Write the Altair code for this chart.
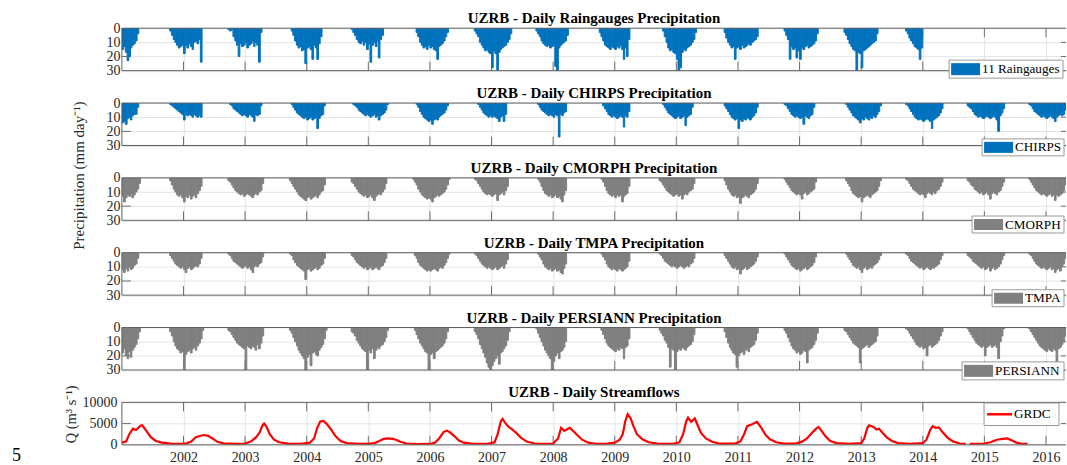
import altair as alt
import pandas as pd
from datetime import date

# ---------------------------------------------------------------- style
SERIF = "Liberation Serif"
BLUE = "#0072BD"
GREY = "#808080"
RED = "#FF0000"
FRAME = "#5f5f5f"
TICK = "#6e6e6e"
GRID = "#e4e4e4"
TEXT = "#262626"

W = 945      # plot width (px)
H = 42.5     # plot height of every panel (px)
GAP = 31.9   # vertical gap between panels (px)

# ---------------------------------------------------------------- axes
X_DOMAIN = [2001.0, 2016.325]
YEAR_TICKS = list(range(2002, 2017))
P_TICKS = [0, 10, 20, 30]
P_INNER_TICKS = [10, 20]
Q_TICKS = [0, 5000, 10000]
Q_INNER_TICKS = [5000]

# ---------------------------------------------------------------- data
# Rainy seasons start on 21 Sep of the listed year and run to 30 Apr of the next.
# Each season holds 22 dekadal depths (mm/day): Sep-3, Oct-1..3, Nov, Dec, Jan, Feb, Mar, Apr.
SEASONS = list(range(2000, 2016))
DEKAD_MONTH = [9, 10, 10, 10, 11, 11, 11, 12, 12, 12, 1, 1, 1, 2, 2, 2, 3, 3, 3, 4, 4, 4]
DEKAD_DAY = [21, 1, 11, 21, 1, 11, 21, 1, 11, 21, 1, 11, 21, 1, 11, 21, 1, 11, 21, 1, 11, 21]
N = None

RAINGAUGES = [
    [N] * 10 + [15, 13, 17, 23, 20, 14, 12, 11, 9, 4, 0, 0],
    [0, 0, 2, 5, 8, 10, 12, 14, 13, 12, 18, 12, 14, 11, 13, 15, 10, 9, 11, 8, 24, 0],
    [1, 2, 1, 6, 9, 12, 20, 11, 13, 12, 10, 14, 12, 11, 9, 13, 10, 12, 24, 3, 0, 0],
    [0, 2, 5, 9, 12, 14, 13, 16, 15, 25, 14, 13, 15, 22, 12, 14, 22, 11, 6, 0, 0, 0],
    [1, 3, 5, 8, 10, 11, 9, 12, 10, 15, 11, 24, 12, 10, 13, 9, 21, 8, 5, 0, 0, 0],
    [0, 0, 3, 6, 10, 12, 14, 13, 15, 12, 14, 13, 15, 16, 22, 13, 12, 11, 9, 6, 3, 0],
    [2, 4, 6, 10, 12, 14, 16, 15, 17, 18, 28, 16, 18, 30, 17, 15, 14, 13, 12, 10, 8, 4],
    [2, 4, 6, 9, 11, 12, 13, 12, 14, 13, 12, 27, 30, 14, 12, 11, 10, 9, 5, 0, 0, 0],
    [0, 3, 6, 9, 12, 13, 14, 15, 13, 14, 15, 13, 14, 12, 15, 22, 14, 20, 8, 0, 0, 0],
    [0, 0, 2, 6, 10, 14, 16, 15, 17, 18, 22, 30, 28, 17, 15, 16, 14, 13, 12, 10, 8, 3],
    [0, 0, 3, 7, 10, 12, 14, 13, 22, 14, 13, 15, 12, 14, 13, 12, 11, 12, 10, 9, 8, 6],
    [0, 2, 5, 8, 22, 13, 15, 14, 21, 16, 22, 14, 15, 13, 12, 14, 13, 12, 11, 9, 4, 0],
    [3, 5, 8, 11, 13, 15, 16, 30, 17, 18, 28, 16, 15, 14, 13, 12, 11, 10, 9, 4, 0, 0],
    [2, 4, 7, 9, 11, 13, 14, 15, 22, 14] + [N] * 12,
    None,
    None,
]

CHIRPS = [
    [N] * 10 + [14, 13, 15, 11, 10, 12, 9, 8, 8, 3, 0, 0],
    [0, 0, 1, 2, 3, 4, 5, 6, 7, 8, 12, 8, 9, 8, 9, 10, 8, 9, 10, 9, 10, 0],
    [0, 1, 2, 4, 5, 6, 7, 8, 9, 8, 9, 10, 8, 9, 10, 13, 8, 9, 8, 2, 0, 0],
    [0, 1, 3, 5, 7, 8, 9, 10, 11, 10, 12, 11, 10, 12, 11, 10, 18, 11, 9, 8, 2, 0],
    [0, 1, 2, 3, 5, 6, 7, 8, 9, 8, 9, 10, 9, 8, 10, 9, 12, 9, 8, 7, 5, 1],
    [0, 0, 1, 3, 6, 8, 10, 11, 12, 13, 12, 15, 12, 11, 12, 10, 9, 8, 7, 5, 2, 0],
    [0, 0, 1, 3, 5, 7, 8, 9, 10, 9, 10, 9, 10, 11, 13, 10, 9, 13, 8, 0, 0, 0],
    [0, 1, 3, 5, 6, 7, 8, 9, 8, 9, 10, 8, 9, 24, 8, 9, 7, 6, 0, 0, 0, 0],
    [0, 0, 0, 2, 4, 6, 8, 9, 10, 9, 10, 11, 10, 9, 10, 17, 9, 10, 6, 0, 0, 0],
    [0, 0, 1, 3, 5, 7, 8, 9, 10, 11, 10, 9, 11, 10, 9, 16, 10, 9, 8, 3, 0, 0],
    [0, 0, 2, 4, 6, 8, 10, 11, 12, 11, 18, 12, 13, 11, 12, 10, 11, 12, 10, 9, 7, 3],
    [0, 1, 2, 4, 6, 8, 9, 10, 9, 10, 11, 10, 15, 9, 10, 11, 9, 8, 3, 0, 0, 0],
    [0, 1, 3, 5, 7, 9, 10, 11, 12, 14, 11, 12, 10, 11, 12, 10, 11, 9, 10, 8, 6, 2],
    [1, 2, 4, 6, 8, 10, 11, 12, 11, 12, 13, 12, 11, 12, 13, 18, 12, 11, 10, 9, 7, 4],
    [2, 3, 4, 6, 8, 9, 10, 9, 10, 11, 10, 9, 10, 11, 10, 9, 10, 12, 20, 9, 7, 4],
    [1, 2, 4, 6, 7, 8, 9, 10, 9, 10, 11, 10, 9, 10, 11, 13, 10, 9, 8, 9, 8, 5],
]

CMORPH = [
    [N] * 10 + [13, 17, 14, 12, 13, 11, 14, 12, 10, 8, 4, 0],
    [0, 0, 2, 5, 8, 10, 12, 13, 12, 14, 17, 13, 14, 12, 15, 13, 12, 14, 11, 9, 6, 0],
    [2, 3, 5, 7, 9, 10, 11, 12, 11, 13, 12, 11, 12, 13, 14, 12, 11, 12, 10, 9, 4, 0],
    [2, 4, 6, 8, 10, 12, 13, 14, 15, 16, 14, 13, 15, 14, 13, 12, 14, 12, 10, 9, 5, 0],
    [3, 4, 6, 8, 10, 11, 12, 13, 12, 14, 13, 12, 14, 16, 13, 12, 11, 12, 10, 8, 4, 0],
    [1, 3, 5, 8, 10, 12, 13, 14, 15, 14, 15, 17, 14, 13, 12, 13, 12, 11, 10, 8, 5, 1],
    [1, 2, 4, 6, 8, 10, 11, 12, 11, 12, 13, 12, 11, 16, 12, 11, 10, 12, 9, 6, 0, 0],
    [0, 1, 3, 6, 9, 11, 12, 13, 12, 14, 13, 12, 14, 13, 15, 17, 12, 9, 0, 0, 0, 0],
    [0, 0, 1, 3, 6, 9, 11, 12, 13, 12, 14, 12, 13, 12, 17, 13, 12, 11, 6, 0, 0, 0],
    [2, 3, 5, 7, 9, 10, 11, 12, 13, 12, 11, 13, 12, 15, 12, 11, 12, 10, 9, 8, 4, 0],
    [0, 0, 2, 5, 8, 10, 12, 13, 12, 14, 13, 18, 14, 13, 12, 13, 14, 12, 11, 10, 8, 4],
    [0, 1, 3, 5, 7, 9, 10, 11, 12, 11, 12, 15, 11, 10, 12, 11, 10, 9, 8, 3, 0, 0],
    [0, 2, 4, 6, 9, 11, 12, 13, 14, 13, 17, 14, 13, 12, 13, 14, 12, 11, 10, 9, 6, 2],
    [1, 2, 4, 6, 8, 9, 10, 11, 12, 11, 12, 14, 11, 10, 11, 12, 10, 11, 9, 8, 6, 3],
    [2, 3, 5, 6, 8, 9, 10, 11, 10, 12, 11, 10, 12, 15, 11, 10, 11, 12, 10, 9, 6, 3],
    [1, 3, 5, 7, 9, 10, 11, 12, 11, 12, 13, 12, 11, 13, 12, 16, 12, 13, 12, 11, 9, 5],
]

TMPA = [
    [N] * 10 + [12, 14, 11, 13, 10, 12, 11, 9, 8, 4, 0, 0],
    [0, 0, 2, 4, 6, 8, 9, 10, 11, 10, 12, 14, 11, 10, 12, 11, 10, 9, 10, 8, 4, 0],
    [1, 2, 4, 6, 7, 8, 9, 10, 11, 10, 9, 11, 10, 12, 14, 10, 9, 10, 8, 7, 3, 0],
    [1, 2, 5, 7, 9, 10, 11, 12, 13, 19, 12, 11, 13, 12, 11, 10, 12, 11, 9, 8, 4, 0],
    [2, 3, 5, 7, 8, 9, 10, 11, 10, 12, 11, 10, 12, 11, 10, 11, 12, 10, 9, 7, 4, 0],
    [0, 2, 4, 7, 9, 10, 11, 12, 13, 12, 13, 12, 11, 12, 13, 11, 10, 11, 9, 7, 4, 1],
    [1, 2, 4, 6, 8, 9, 10, 11, 10, 11, 12, 11, 10, 12, 11, 10, 9, 11, 8, 5, 0, 0],
    [0, 1, 3, 5, 8, 10, 11, 12, 11, 13, 12, 11, 13, 12, 14, 15, 11, 8, 0, 0, 0, 0],
    [0, 0, 1, 3, 5, 8, 10, 11, 12, 11, 12, 13, 11, 12, 13, 12, 11, 10, 6, 0, 0, 0],
    [1, 2, 4, 6, 7, 8, 9, 10, 9, 10, 11, 10, 9, 10, 11, 10, 9, 10, 8, 7, 4, 0],
    [0, 0, 2, 4, 6, 8, 10, 11, 10, 12, 11, 15, 12, 11, 10, 12, 11, 10, 9, 8, 6, 3],
    [0, 1, 3, 5, 7, 9, 10, 11, 12, 11, 13, 12, 11, 10, 12, 11, 10, 9, 7, 3, 0, 0],
    [0, 1, 3, 5, 7, 9, 10, 11, 10, 12, 14, 11, 10, 12, 11, 10, 11, 9, 8, 7, 5, 2],
    [1, 2, 4, 6, 7, 8, 9, 10, 11, 10, 12, 11, 10, 11, 12, 10, 11, 10, 9, 8, 5, 2],
    [2, 3, 4, 6, 7, 8, 9, 10, 11, 10, 12, 11, 10, 13, 11, 10, 12, 11, 10, 8, 5, 2],
    [1, 2, 4, 6, 8, 9, 10, 11, 10, 11, 12, 11, 10, 12, 11, 14, 12, 11, 13, 10, 8, 4],
]

PERSIANN = [
    [N] * 10 + [18, 15, 20, 22, 17, 21, 16, 14, 12, 8, 3, 0],
    [0, 0, 3, 6, 10, 13, 15, 16, 18, 17, 30, 19, 17, 16, 18, 15, 14, 16, 13, 11, 8, 2],
    [2, 3, 5, 7, 9, 11, 12, 13, 14, 15, 30, 13, 14, 15, 13, 14, 16, 12, 15, 11, 6, 0],
    [2, 4, 7, 10, 13, 16, 18, 20, 22, 30, 21, 19, 27, 18, 17, 19, 20, 16, 14, 12, 8, 2],
    [3, 4, 6, 9, 11, 13, 15, 16, 17, 30, 16, 18, 15, 22, 16, 14, 15, 13, 12, 10, 7, 2],
    [0, 2, 5, 8, 11, 13, 15, 17, 18, 30, 19, 18, 22, 17, 16, 15, 14, 13, 11, 8, 3, 0],
    [3, 5, 8, 12, 15, 18, 21, 25, 28, 30, 27, 24, 22, 20, 26, 18, 17, 15, 13, 9, 3, 0],
    [1, 4, 7, 10, 13, 16, 18, 20, 22, 30, 24, 20, 18, 22, 17, 16, 14, 10, 0, 0, 0, 0],
    [0, 0, 2, 5, 8, 11, 13, 14, 15, 16, 17, 15, 16, 14, 15, 22, 14, 13, 8, 0, 0, 0],
    [2, 4, 6, 9, 11, 14, 28, 15, 16, 30, 17, 15, 16, 14, 15, 16, 14, 13, 12, 10, 5, 0],
    [0, 0, 3, 7, 11, 14, 16, 18, 19, 28, 20, 18, 17, 19, 16, 15, 17, 14, 13, 12, 9, 4],
    [0, 2, 4, 7, 10, 13, 15, 16, 18, 17, 19, 18, 16, 17, 25, 16, 15, 14, 12, 9, 4, 0],
    [2, 3, 5, 7, 9, 11, 12, 13, 14, 25, 15, 14, 13, 12, 14, 13, 12, 11, 10, 6, 0, 0],
    [1, 2, 4, 6, 8, 10, 12, 13, 14, 13, 15, 14, 20, 13, 12, 14, 13, 12, 11, 9, 6, 3],
    [1, 3, 5, 7, 9, 11, 12, 13, 14, 13, 20, 14, 13, 12, 14, 13, 12, 14, 22, 10, 6, 1],
    [1, 3, 5, 7, 9, 11, 13, 14, 15, 16, 17, 15, 16, 17, 15, 16, 28, 15, 14, 12, 10, 6],
]

# Streamflow at the outlet (decimal year, m3/s); None marks the gap in the record.
GRDC_T = [
    2001.00, 2001.07, 2001.12, 2001.18, 2001.23, 2001.30, 2001.33, 2001.40, 2001.47, 2001.55, 2001.65, 2001.80, 2001.95,
    2002.05, 2002.12, 2002.20, 2002.25, 2002.33, 2002.40, 2002.47, 2002.55, 2002.65, 2002.85,
    2003.00, 2003.10, 2003.18, 2003.24, 2003.28, 2003.31, 2003.35, 2003.40, 2003.47, 2003.55, 2003.70, 2003.90,
    2004.05, 2004.12, 2004.17, 2004.22, 2004.27, 2004.32, 2004.40, 2004.47, 2004.55, 2004.65, 2004.85,
    2005.00, 2005.10, 2005.18, 2005.25, 2005.32, 2005.40, 2005.45, 2005.52, 2005.62, 2005.80,
    2006.00, 2006.08, 2006.15, 2006.22, 2006.27, 2006.32, 2006.40, 2006.47, 2006.55, 2006.70, 2006.95,
    2007.05, 2007.10, 2007.15, 2007.18, 2007.22, 2007.27, 2007.33, 2007.40, 2007.48, 2007.58, 2007.70, 2007.90,
    2008.00, 2008.08, 2008.13, 2008.18, 2008.22, 2008.27, 2008.33, 2008.40, 2008.47, 2008.57, 2008.70, 2008.88,
    2009.00, 2009.08, 2009.13, 2009.17, 2009.21, 2009.26, 2009.30, 2009.36, 2009.45, 2009.55, 2009.70, 2009.95,
    2010.05, 2010.11, 2010.16, 2010.19, 2010.24, 2010.30, 2010.35, 2010.40, 2010.48, 2010.58, 2010.70, 2010.95,
    2011.04, 2011.10, 2011.15, 2011.22, 2011.31, 2011.38, 2011.45, 2011.52, 2011.62, 2011.75, 2011.95,
    2012.05, 2012.12, 2012.20, 2012.27, 2012.31, 2012.36, 2012.42, 2012.50, 2012.60, 2012.80,
    2013.00, 2013.05, 2013.10, 2013.13, 2013.20, 2013.25, 2013.29, 2013.35, 2013.42, 2013.50, 2013.60, 2013.80,
    2014.00, 2014.06, 2014.12, 2014.16, 2014.21, 2014.26, 2014.32, 2014.40, 2014.49, 2014.60, 2014.70,
    2014.72,
    2014.76, 2014.90, 2015.00, 2015.10, 2015.20, 2015.30, 2015.37, 2015.45, 2015.52, 2015.60, 2015.70,
]
GRDC_Q = [
    500, 800, 2500, 3800, 3500, 4500, 4600, 3200, 1800, 900, 500, 300, 250,
    350, 700, 1800, 2000, 2300, 2100, 1500, 700, 350, 200,
    300, 800, 1800, 3000, 4500, 5000, 4200, 2500, 1200, 600, 300, 250,
    500, 1500, 4000, 5500, 5600, 5000, 3500, 2000, 900, 400, 250,
    200, 400, 900, 1400, 1500, 1400, 1200, 700, 300, 150,
    200, 500, 1500, 3000, 3300, 3000, 2000, 1000, 500, 250, 300,
    600, 2500, 5500, 6100, 5200, 4300, 3700, 2800, 1600, 700, 300, 200,
    300, 1500, 4000, 3300, 3600, 4000, 3200, 2200, 1200, 500, 250, 300,
    500, 1200, 2500, 5500, 7200, 6200, 4500, 2500, 1300, 600, 300, 250,
    600, 2500, 5500, 6400, 5400, 6200, 4500, 2800, 1500, 700, 300, 300,
    800, 2500, 4400, 4800, 5400, 4000, 2300, 1300, 600, 300, 350,
    800, 1500, 2800, 3800, 4200, 3200, 2000, 900, 400, 250,
    400, 1500, 4000, 4600, 4200, 3600, 3800, 2800, 1700, 900, 400, 250,
    400, 1200, 3500, 4400, 4000, 4100, 3000, 1700, 800, 300, 200,
    None,
    200, 250, 300, 600, 1200, 1400, 1500, 1000, 500, 250, 200,
]

PANELS = [
    # (series, legend name, colour, title, legend box: left, top, width, height)
    (RAINGAUGES, "11 Raingauges", BLUE, "UZRB - Daily Raingauges Precipitation", 828, 32.0, 114, 18),
    (CHIRPS, "CHIRPS", BLUE, "UZRB - Daily CHIRPS Precipitation", 861, 35.9, 82, 17),
    (CMORPH, "CMORPH", GREY, "UZRB - Daily CMORPH Precipitation", 851, 38.2, 92, 17),
    (TMPA, "TMPA", GREY, "UZRB - Daily TMPA Precipitation", 871, 37.1, 72, 17),
    (PERSIANN, "PERSIANN", GREY, "UZRB - Daily PERSIANN Precipitation", 841, 34.4, 102, 18),
]
FLOW_TITLE = "UZRB - Daily Streamflows"
FLOW_NAME = "GRDC"
FLOW_LEGEND = (863, 0.7, 75, 22.5)


# ---------------------------------------------------------------- helpers
def decimal_year(y, m, d):
    start = date(y, 1, 1)
    days = (date(y + 1, 1, 1) - start).days
    return y + (date(y, m, d) - start).days / days


def dekad_frame(seasons):
    rows = []
    for s, values in zip(SEASONS, seasons):
        if values is None:
            continue
        for i, v in enumerate(values):
            if v is None or v == 0:
                continue
            m, d = DEKAD_MONTH[i], DEKAD_DAY[i]
            x0 = decimal_year(s if m >= 9 else s + 1, m, d)
            if i + 1 < len(DEKAD_MONTH):
                m2, d2 = DEKAD_MONTH[i + 1], DEKAD_DAY[i + 1]
                x1 = decimal_year(s if m2 >= 9 else s + 1, m2, d2)
            else:
                x1 = decimal_year(s + 1, 5, 1)
            if x0 >= X_DOMAIN[1] or x1 <= X_DOMAIN[0]:
                continue
            rows.append({"x0": x0, "x1": x1, "v": v})
    return pd.DataFrame(rows)


x_scale = alt.Scale(domain=X_DOMAIN, nice=False, zero=False)
p_scale = alt.Scale(domain=[0, 30], reverse=True, nice=False, zero=False)
q_scale = alt.Scale(domain=[0, 10000], nice=False, zero=False)


def x_axis(labels):
    return alt.Axis(
        values=YEAR_TICKS, format="d", grid=True, gridColor=GRID, gridWidth=1,
        ticks=False, domain=False, labels=labels, labelFont=SERIF, labelFontSize=14,
        labelColor=TEXT, labelPadding=6, labelFlush=False, labelOverlap=False, title=None,
    )


def y_axis(values, pad, **title):
    kw = dict(
        values=values, format="d", grid=True, gridColor=GRID, gridWidth=1, ticks=False,
        domain=False, labelFont=SERIF, labelFontSize=14, labelColor=TEXT, labelPadding=pad,
        labelFlush=False, labelOverlap=False,
    )
    if title:
        kw.update(
            title=title["text"], titleFont=SERIF, titleFontSize=title["size"],
            titleFontWeight="normal", titleColor=TEXT, titleAngle=270,
            titleAlign="center", titleBaseline="middle",
            titleX=title["x"], titleY=title["y"],
        )
    else:
        kw.update(title=None)
    return alt.Axis(**kw)


def frame_layers(y_scale, xax, yax, inner):
    """Inner tick marks and the open box (top, bottom, left edges) of one panel."""
    one = pd.DataFrame({"k": [0]})
    years = pd.DataFrame({"x0": YEAR_TICKS})
    levels = pd.DataFrame({"v": inner})
    xs = alt.X("x0:Q", scale=x_scale, axis=xax)
    ys = alt.Y("v:Q", scale=y_scale, axis=yax)
    rule = dict(color=TICK, strokeWidth=1)
    edge = dict(color=FRAME, strokeWidth=1)
    ticks = [
        alt.Chart(years).mark_rule(**rule).encode(x=xs, y=alt.value(H - 9), y2=alt.value(H)),
        alt.Chart(years).mark_rule(**rule).encode(x=xs, y=alt.value(0), y2=alt.value(9)),
        alt.Chart(levels).mark_rule(**rule).encode(y=ys, x=alt.value(0), x2=alt.value(9)),
        alt.Chart(levels).mark_rule(**rule).encode(y=ys, x=alt.value(W - 5), x2=alt.value(W)),
    ]
    edges = [
        alt.Chart(one).mark_rule(**edge).encode(x=alt.value(0), x2=alt.value(W), y=alt.value(0)),
        alt.Chart(one).mark_rule(**edge).encode(x=alt.value(0), x2=alt.value(W), y=alt.value(H)),
        alt.Chart(one).mark_rule(**edge).encode(x=alt.value(0), y=alt.value(0), y2=alt.value(H)),
    ]
    return ticks, edges


def title_layer(text):
    return alt.Chart(pd.DataFrame({"t": [text]})).mark_text(
        font=SERIF, fontSize=15, fontWeight="bold", align="center",
        baseline="alphabetic", color="black",
    ).encode(x=alt.value(W / 2), y=alt.value(-5), text="t:N")


def legend_layers(name, colour, lx, ly, w, h, line=False):
    lab = pd.DataFrame({"name": [name]})
    box = alt.Chart(lab).mark_rect(fill="white", stroke="#9a9a9a", strokeWidth=1).encode(
        x=alt.value(lx), x2=alt.value(lx + w), y=alt.value(ly), y2=alt.value(ly + h))
    if line:
        key = alt.Chart(lab).mark_rule(color=colour, strokeWidth=2.5).encode(
            x=alt.value(lx + 3), x2=alt.value(lx + 28), y=alt.value(ly + h / 2))
        tx = lx + 30
    else:
        key = alt.Chart(lab).mark_rect(color=colour).encode(
            x=alt.value(lx + 2), x2=alt.value(lx + 31), y=alt.value(ly + 3), y2=alt.value(ly + h - 3))
        tx = lx + 33
    label = alt.Chart(lab).mark_text(
        font=SERIF, fontSize=13.2, align="left", baseline="middle", color="black",
    ).encode(x=alt.value(tx), y=alt.value(ly + h / 2), text="name:N")
    return [box, key, label]


# ---------------------------------------------------------------- precipitation panels
panels = []
for k, (series, name, colour, title, lx, ly, lw, lh) in enumerate(PANELS):
    df = dekad_frame(series)
    xax = x_axis(False)
    if k == 2:
        yax = y_axis(P_TICKS, 2, text="Precipitation (mm day\u207b\u00b9)", size=15, x=-43, y=-2.8)
    else:
        yax = y_axis(P_TICKS, 2)
    ticks, edges = frame_layers(p_scale, xax, yax, P_INNER_TICKS)
    bars = alt.Chart(df).mark_rect(
        color=colour, stroke=colour, strokeWidth=1.0, clip=True
    ).encode(
        x=alt.X("x0:Q", scale=x_scale, axis=xax),
        x2="x1:Q",
        y=alt.Y("v:Q", scale=p_scale, axis=yax),
        y2=alt.datum(0),
    )
    layers = ticks + [bars] + edges + [title_layer(title)] + legend_layers(name, colour, lx, ly, lw, lh)
    panels.append(alt.layer(*layers).properties(width=W, height=H))

# ---------------------------------------------------------------- streamflow panel
flow = pd.DataFrame({"x0": GRDC_T, "v": GRDC_Q})
flow["seg"] = flow["v"].isna().cumsum()
flow = flow.dropna()

xax = x_axis(True)
yax = y_axis(Q_TICKS, 5, text="Q (m\u00b3 s\u207b\u00b9)", size=14.5, x=-50, y=11.5)
ticks, edges = frame_layers(q_scale, xax, yax, Q_INNER_TICKS)
line = alt.Chart(flow).mark_line(color=RED, strokeWidth=2.2, clip=True).encode(
    x=alt.X("x0:Q", scale=x_scale, axis=xax),
    y=alt.Y("v:Q", scale=q_scale, axis=yax),
    detail="seg:N",
)
number = alt.Chart(pd.DataFrame({"n": ["5"]})).mark_text(
    font=SERIF, fontSize=18, align="left", baseline="bottom", color="black",
).encode(x=alt.value(-110), y=alt.value(63), text="n:N")
lx, ly, lw, lh = FLOW_LEGEND
flow_layers = (ticks + [line] + edges + [title_layer(FLOW_TITLE), number]
               + legend_layers(FLOW_NAME, RED, lx, ly, lw, lh, line=True))
panels.append(alt.layer(*flow_layers).properties(width=W, height=H))

chart = (
    alt.vconcat(*panels, spacing=GAP, bounds="flush")
    .configure_view(stroke=None)
    .properties(padding={"left": 12, "top": 11, "right": 0, "bottom": 0}, background="white")
)

chart.save("out.html", embed_options={"renderer": "svg", "actions": False})
